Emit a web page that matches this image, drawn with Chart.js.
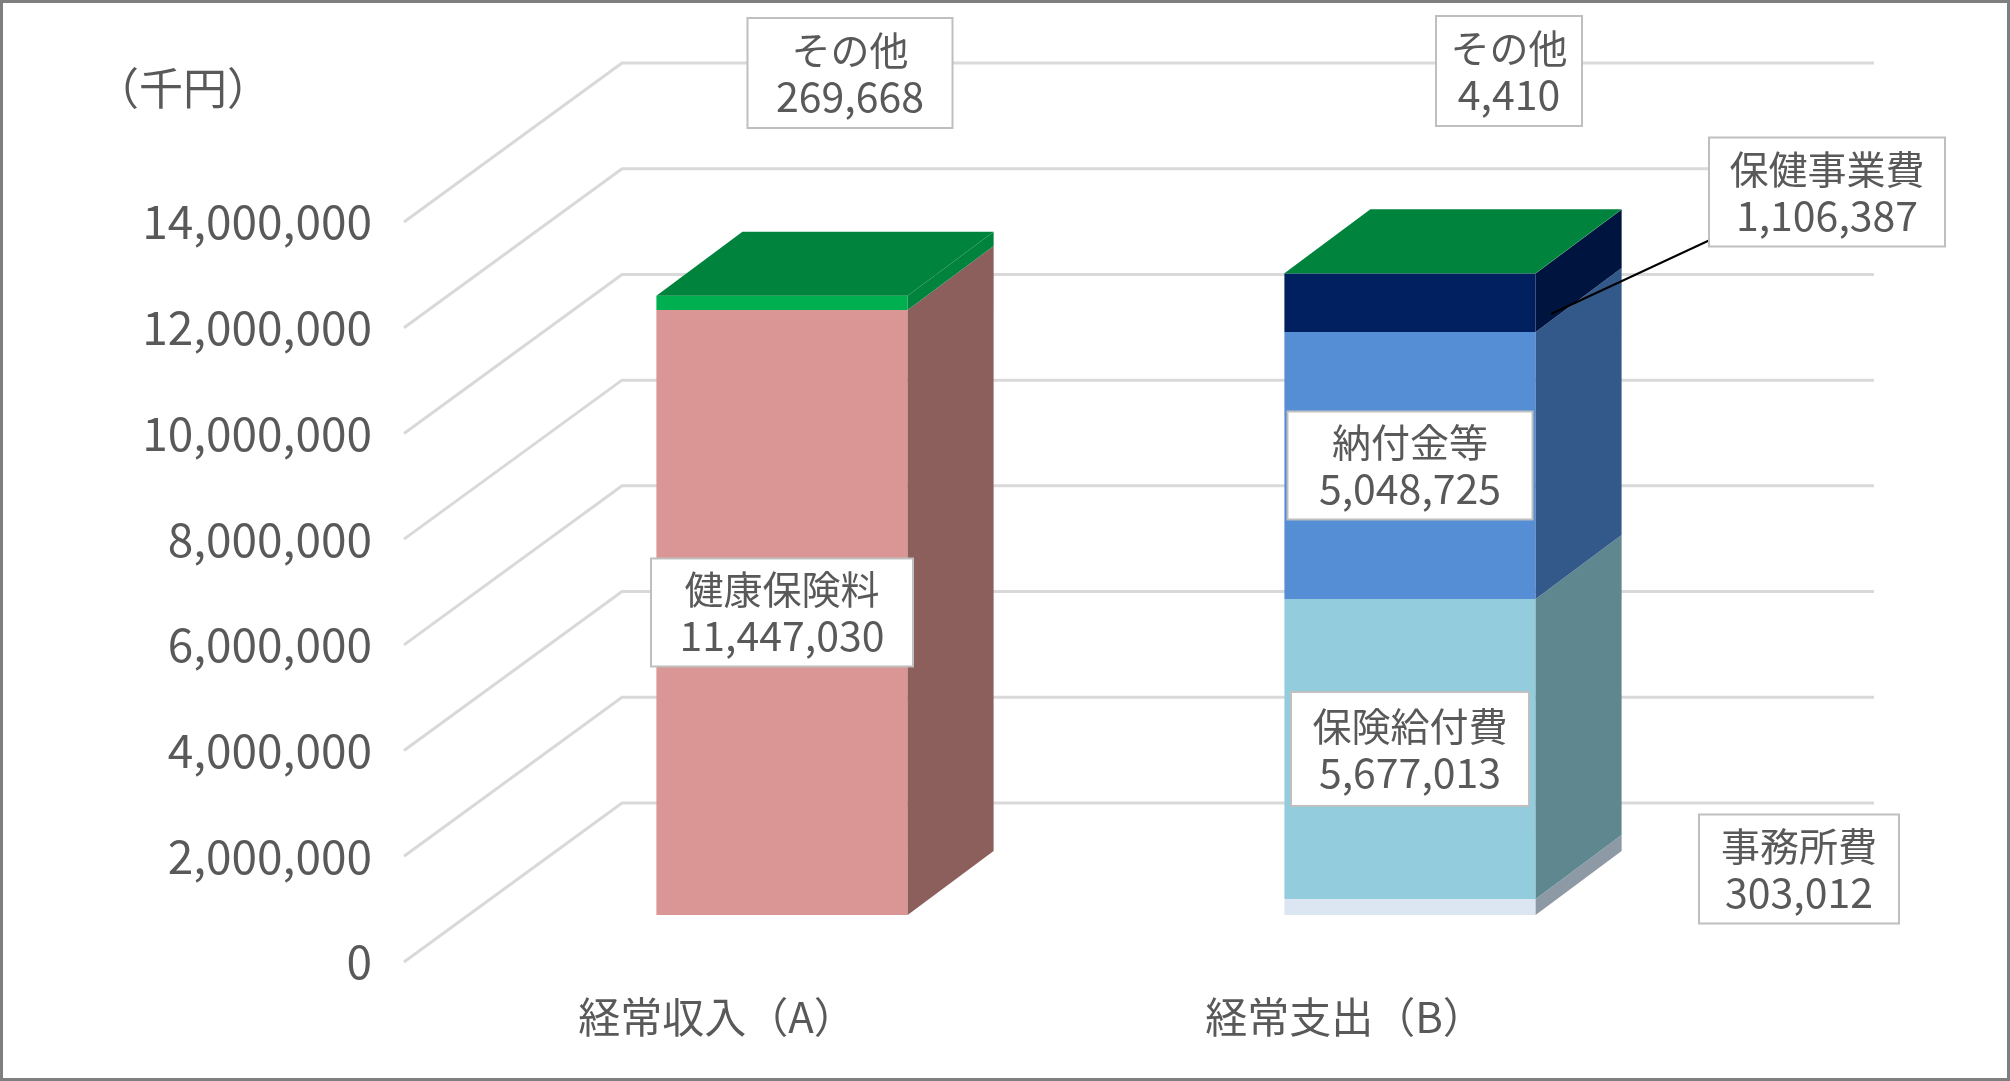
<!DOCTYPE html>
<html>
<head>
<meta charset="utf-8">
<script src="https://cdn.jsdelivr.net/npm/chart.js@4"></script>
<style>
  html, body { margin: 0; padding: 0; background: #fff; }
  #wrap { position: relative; width: 2010px; height: 1081px; box-sizing: border-box; border: 3px solid #7f7f7f; }
  canvas { position: absolute; left: -3px; top: -3px; }
</style>
</head>
<body>
<div id="wrap"><canvas id="c" width="2010" height="1081"></canvas></div>
<script>
// data
var categories = ['経常収入（A）', '経常支出（B）'];
var seriesNames = ['健康保険料', '事務所費', '保険給付費', '納付金等', '保健事業費', 'その他'];
var kenkoHokenryo = [11447030, 0];
var jimushohi = [0, 303012];
var hokenKyufuhi = [0, 5677013];
var nofukinTo = [0, 5048725];
var hokenJigyohi = [0, 1106387];
var sonota = [269668, 4410];
var yTicks = [0, 2000000, 4000000, 6000000, 8000000, 10000000, 12000000, 14000000];

var faceColors = ['#d99694', '#dce6f2', '#93cddd', '#558ed5', '#002060', '#00b050'];
var sideColors = ['#8c5e5c', '#8e99a6', '#5e8790', '#33598a', '#001440', '#00843d'];
var topColors  = ['#b87f7d', '#c4ccd6', '#7eb3c1', '#4a7cbc', '#00154a', '#00843d'];

var FONT = '"Noto Sans CJK JP", "Noto Sans", sans-serif';
var TXT = '#595959';
// depth vectors
var BAR_D = {x: 86, y: -64};    // bar depth
var FRONT = {x: -65, y: 47};    // floor front edge relative to bar plane
var BACK = {x: 153, y: -112};   // back wall relative to bar plane
var GRID_LEFT = 404, GRID_RIGHT = 1874;

function fmt(v) { return v.toLocaleString('en-US'); }

function box(ctx, lines, cx, cy, w, h) {
    ctx.save();
    ctx.fillStyle = '#fff';
    ctx.strokeStyle = '#bfbfbf';
    ctx.lineWidth = 2;
    ctx.fillRect(cx - w / 2, cy - h / 2, w, h);
    ctx.strokeRect(cx - w / 2, cy - h / 2, w, h);
    ctx.fillStyle = TXT;
    ctx.textAlign = 'center';
    ctx.textBaseline = 'middle';
    ctx.font = '39px ' + FONT;
    ctx.fillText(lines[0], cx, cy - 23);
    ctx.font = '41px ' + FONT;
    ctx.fillText(lines[1], cx, cy + 23);
    ctx.restore();
}

var threeD = {
    id: 'threeD',
    beforeDatasetsDraw: function(chart) {
        var ctx = chart.ctx, y = chart.scales.y, x = chart.scales.x;
        ctx.save();
        ctx.strokeStyle = '#d9d9d9';
        ctx.lineWidth = 3;
        yTicks.forEach(function(t) {
            var py = y.getPixelForValue(t);
            ctx.beginPath();
            ctx.moveTo(GRID_LEFT, py + FRONT.y);
            ctx.lineTo(GRID_LEFT + BACK.x - FRONT.x, py + BACK.y);
            ctx.lineTo(GRID_RIGHT, py + BACK.y);
            ctx.stroke();
        });
        ctx.fillStyle = TXT;
        ctx.font = '46px ' + FONT;
        ctx.textAlign = 'right';
        ctx.textBaseline = 'middle';
        yTicks.forEach(function(t) {
            ctx.fillText(fmt(t), 372, y.getPixelForValue(t) + FRONT.y);
        });
        ctx.textAlign = 'left';
        ctx.font = '44px ' + FONT;
        ctx.fillText('（千円）', 95, 88);
        ctx.textAlign = 'center';
        ctx.font = '42px ' + FONT;
        categories.forEach(function(c, i) {
            ctx.fillText(c, x.getPixelForValue(i) + FRONT.x, 1017);
        });
        ctx.restore();
    },
    afterDatasetsDraw: function(chart) {
        var ctx = chart.ctx;
        var n = chart.data.datasets.length;
        categories.forEach(function(c, j) {
            var topIdx = -1;
            for (var i = 0; i < n; i++) {
                var el = chart.getDatasetMeta(i).data[j];
                if (chart.data.datasets[i].data[j] === 0) continue;
                topIdx = i;
                var xr = el.x + el.width / 2;
                ctx.fillStyle = sideColors[i];
                ctx.beginPath();
                ctx.moveTo(xr, el.y);
                ctx.lineTo(xr + BAR_D.x, el.y + BAR_D.y);
                ctx.lineTo(xr + BAR_D.x, el.base + BAR_D.y);
                ctx.lineTo(xr, el.base);
                ctx.closePath();
                ctx.fill();
            }
            var t = chart.getDatasetMeta(topIdx).data[j];
            var xl = t.x - t.width / 2, xr2 = t.x + t.width / 2;
            ctx.fillStyle = topColors[topIdx];
            ctx.beginPath();
            ctx.moveTo(xl, t.y);
            ctx.lineTo(xl + BAR_D.x, t.y + BAR_D.y);
            ctx.lineTo(xr2 + BAR_D.x, t.y + BAR_D.y);
            ctx.lineTo(xr2, t.y);
            ctx.closePath();
            ctx.fill();
        });

        // labels inside bars
        function center(i, j) {
            var el = chart.getDatasetMeta(i).data[j];
            return {x: el.x, y: (el.y + el.base) / 2};
        }
        var p = center(0, 0);
        box(ctx, [seriesNames[0], fmt(kenkoHokenryo[0])], p.x, p.y, 262, 108);
        p = center(3, 1);
        box(ctx, [seriesNames[3], fmt(nofukinTo[1])], p.x, p.y, 245, 108);
        p = center(2, 1);
        box(ctx, [seriesNames[2], fmt(hokenKyufuhi[1])], p.x, p.y, 238, 114);

        // outside callouts
        box(ctx, [seriesNames[5], fmt(sonota[0])], 850, 73, 205, 110);
        box(ctx, [seriesNames[5], fmt(sonota[1])], 1509, 71, 146, 110);
        box(ctx, [seriesNames[1], fmt(jimushohi[1])], 1799, 869, 200, 109);
        var hj = center(4, 1);
        ctx.save();
        ctx.strokeStyle = '#000';
        ctx.lineWidth = 2;
        ctx.beginPath();
        ctx.moveTo(1551, 314);
        ctx.lineTo(1725, 233);
        ctx.stroke();
        ctx.restore();
        box(ctx, [seriesNames[4], fmt(hokenJigyohi[1])], 1827, 192, 236, 109);
    }
};

var seriesData = [kenkoHokenryo, jimushohi, hokenKyufuhi, nofukinTo, hokenJigyohi, sonota];

new Chart(document.getElementById('c').getContext('2d'), {
    type: 'bar',
    data: {
        labels: categories,
        datasets: seriesNames.map(function(name, i) {
            return {
                label: name,
                data: seriesData[i],
                backgroundColor: faceColors[i],
                borderWidth: 0,
                barPercentage: 0.4,
                categoryPercentage: 1
            };
        })
    },
    options: {
        responsive: false,
        devicePixelRatio: 1,
        animation: false,
        layout: { padding: { left: 468, right: 286, top: 175, bottom: 166 } },
        scales: {
            x: { stacked: true, display: false },
            y: { stacked: true, display: false, min: 0, max: 14000000 }
        },
        plugins: {
            legend: { display: false },
            tooltip: { enabled: false }
        }
    },
    plugins: [threeD]
});
</script>
</body>
</html>
